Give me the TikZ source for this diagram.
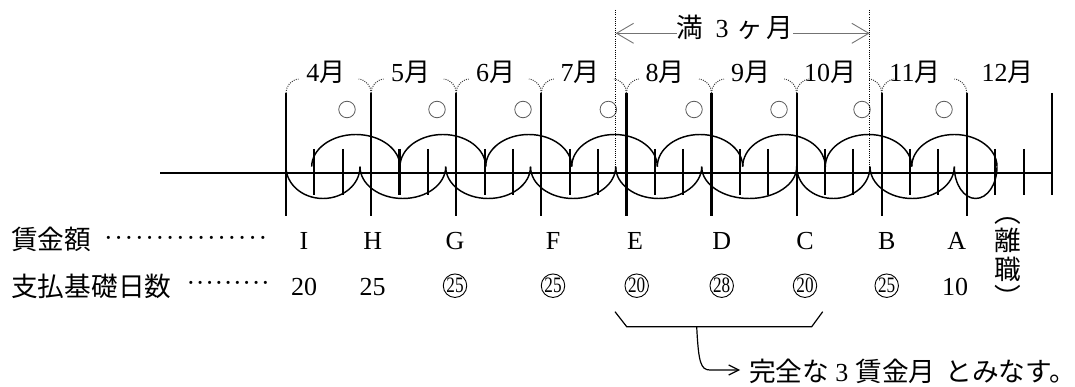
\documentclass[tikz,border=0pt]{standalone}
\usepackage{fontspec}
\usepackage{graphicx}
\setmainfont{Liberation Serif}
\newfontfamily\cjk{Noto Sans CJK JP}
\usetikzlibrary{arrows.meta}
\begin{document}
\begin{tikzpicture}[x=1pt,y=-1pt,
 axisline/.style={line width=2.2pt},
 majorline/.style={line width=2.2pt},
 minorline/.style={line width=2.1pt},
 loopline/.style={line width=1.45pt},
 bracedot/.style={line width=1pt, dash pattern=on 1pt off 1.2pt, black!75},
 guidedot/.style={line width=1pt, dash pattern=on 1pt off 1.2pt},
 okcirc/.style={circle, draw=black!65, line width=0.8pt, minimum size=16.5pt, inner sep=0pt},
 numcirc/.style={circle, draw, line width=0.9pt, minimum size=23.5pt, inner sep=0pt, font=\fontsize{22pt}{22pt}\selectfont},
 monthlbl/.style={inner sep=0pt, font=\fontsize{26pt}{30pt}\selectfont},
 rowlbl/.style={inner sep=0pt, font=\fontsize{26.7pt}{30pt}\selectfont\cjk},
 latin/.style={inner sep=0pt, font=\fontsize{26pt}{30pt}\selectfont},
 toparrow/.style={line width=0.9pt, black!55, -{Straight Barb[length=17pt,width=20pt]}},
 hookarrow/.style={line width=1.2pt, -{Straight Barb[length=10pt,width=10pt]}},
 brk/.style={line width=1.2pt},
]
\useasboundingbox (0,0) rectangle (1075,387);

% --- loops (wage periods)
\foreach \a/\b in {311.7/400,400/485.7,485.7/571.7,571.7/657.3,657.3/742.7,742.7/825.3,825.3/911.7,911.7/997}{
  \pgfmathsetmacro\cx{(\a+\b)/2}
  \pgfmathsetmacro\rr{(\b-\a)/2*0.5523}
  \draw[loopline] (\a,166.7) .. controls (\a,148.9) and (\cx-\rr,134.5) .. (\cx,134.5) .. controls (\cx+\rr,134.5) and (\b,148.9) .. (\b,166.7);
}
\foreach \a/\b in {286/360,360/445.7,445.7/530.5,530.5/615.7,615.7/701.7,701.7/796.7,796.7/870,870/954.3,954.3/997}{
  \pgfmathsetmacro\cx{(\a+\b)/2}
  \pgfmathsetmacro\rr{(\b-\a)/2*0.5523}
  \draw[loopline] (\a,166.7) .. controls (\a,184.3) and (\cx-\rr,198.5) .. (\cx,198.5) .. controls (\cx+\rr,198.5) and (\b,184.3) .. (\b,166.7);
}

% --- axis and ticks
\draw[axisline] (160,173.3) -- (1052,173.3);
\foreach \i in {0,...,8}
  \draw[majorline] ({286+85.1*\i},93) -- ({286+85.1*\i},216.5);
\draw[majorline] (1051.9,93) -- (1051.9,195);
\foreach \i in {0,...,8}
  \foreach \k in {1,2}
    \draw[minorline] ({286+85.1*\i+85.1*\k/3},149) -- ({286+85.1*\i+85.1*\k/3},195);

% --- dotted braces over months
\foreach \i in {1,...,8}{
  \pgfmathsetmacro\xx{286+85.1*\i}
  \draw[bracedot] (\xx,93) .. controls (\xx,86) and (\xx-5,80) .. (\xx-12.5,79);
}
\foreach \i in {0,...,7}{
  \pgfmathsetmacro\xx{286+85.1*\i}
  \draw[bracedot] (\xx,93) .. controls (\xx,86) and (\xx+5,80) .. (\xx+12.5,79);
}

% --- month labels
\foreach \x/\m [count=\n] in {325.8/4,410.5/5,495.5/6,580/7,665/8,750.5/9,830/10,915/11,1007.5/12}
  \node[monthlbl, anchor=base] (mon\n) at (\x,82) {\m{\cjk 月}};

% --- small circles
\foreach \x [count=\n] in {347,437,523,608.3,694,779,862,944}
  \node[okcirc] (ok\n) at (\x,109.5) {};

% --- full three months
\draw[guidedot] (615.7,10) -- (615.7,168);
\draw[guidedot] (869.7,10) -- (869.7,168);
\coordinate (al) at (615.7,33.3);
\coordinate (ar) at (869.7,33.3);
\node[latin, anchor=base] (m3) at (735,37.5) {{\cjk\fontsize{26.7pt}{30pt}\selectfont 満}\hspace{12pt}3\hspace{8pt}{\cjk\fontsize{26.7pt}{30pt}\selectfont ヶ}\hspace{3pt}{\cjk\fontsize{26.7pt}{30pt}\selectfont 月}};
\draw[toparrow] (m3.west |- al) -- (al);
\draw[toparrow] (m3.east |- ar) -- (ar);

% --- row labels
\node[rowlbl, anchor=base west] (wage) at (11,250) {賃金額};
\node[rowlbl, anchor=base west] (days) at (11,296) {支払基礎日数};
\node[latin, anchor=base west] (lead1) at (103,246.5) {\hbox to 165pt{\cleaders\hbox to 10.3pt{\hss·\hss}\hfill}};
\node[latin, anchor=base west] (lead2) at (186,291.5) {\hbox to 84pt{\cleaders\hbox to 9.3pt{\hss·\hss}\hfill}};

% --- wage letters
\foreach \x/\t [count=\n] in {304/I,372.7/H,455/G,553/F,635/E,721.7/D,805/C,886.7/B,956.7/A}
  \node[latin, anchor=base] (w\n) at (\x,250) {\t};

% --- days
\node[latin, anchor=base] (d1) at (304,295) {20};
\node[latin, anchor=base] (d2) at (372.7,295) {25};
\node[latin, anchor=base] (d9) at (955,295) {10};
\foreach \x/\t [count=\n] in {455/25,553/25,636.7/20,721.7/28,805/20,886.7/25}
  \node[numcirc] (cn\n) at (\x,285.7) {\scalebox{0.78}[1]{\t}};

% --- (離職) vertical
\node[rowlbl, anchor=base] (rk1) at (1008,222.3) {︵};
\node[rowlbl, anchor=base] (rk2) at (1008,250.7) {離};
\node[rowlbl, anchor=base] (rk3) at (1008,279.1) {職};
\node[rowlbl, anchor=base] (rk4) at (1008,307.5) {︶};

% --- bracket and note
\draw[brk] (615,311.7) -- (626.7,326.7) -- (811.7,326.7) -- (822.7,311.7);
\coordinate (hk) at (696.7,326.7);
\coordinate (tip) at (740,370);
\node[latin, anchor=base west] (res) at (749,381) {{\cjk\fontsize{26.7pt}{30pt}\selectfont 完全な}\hspace{6pt}3\hspace{7pt}{\cjk\fontsize{26.7pt}{30pt}\selectfont 賃金月}\hspace{10pt}{\cjk\fontsize{26.7pt}{30pt}\selectfont とみなす。}};
\draw[hookarrow] (hk) .. controls (698.5,362) and (700.5,370) .. (710,370) -- (tip);
\end{tikzpicture}
\end{document}
